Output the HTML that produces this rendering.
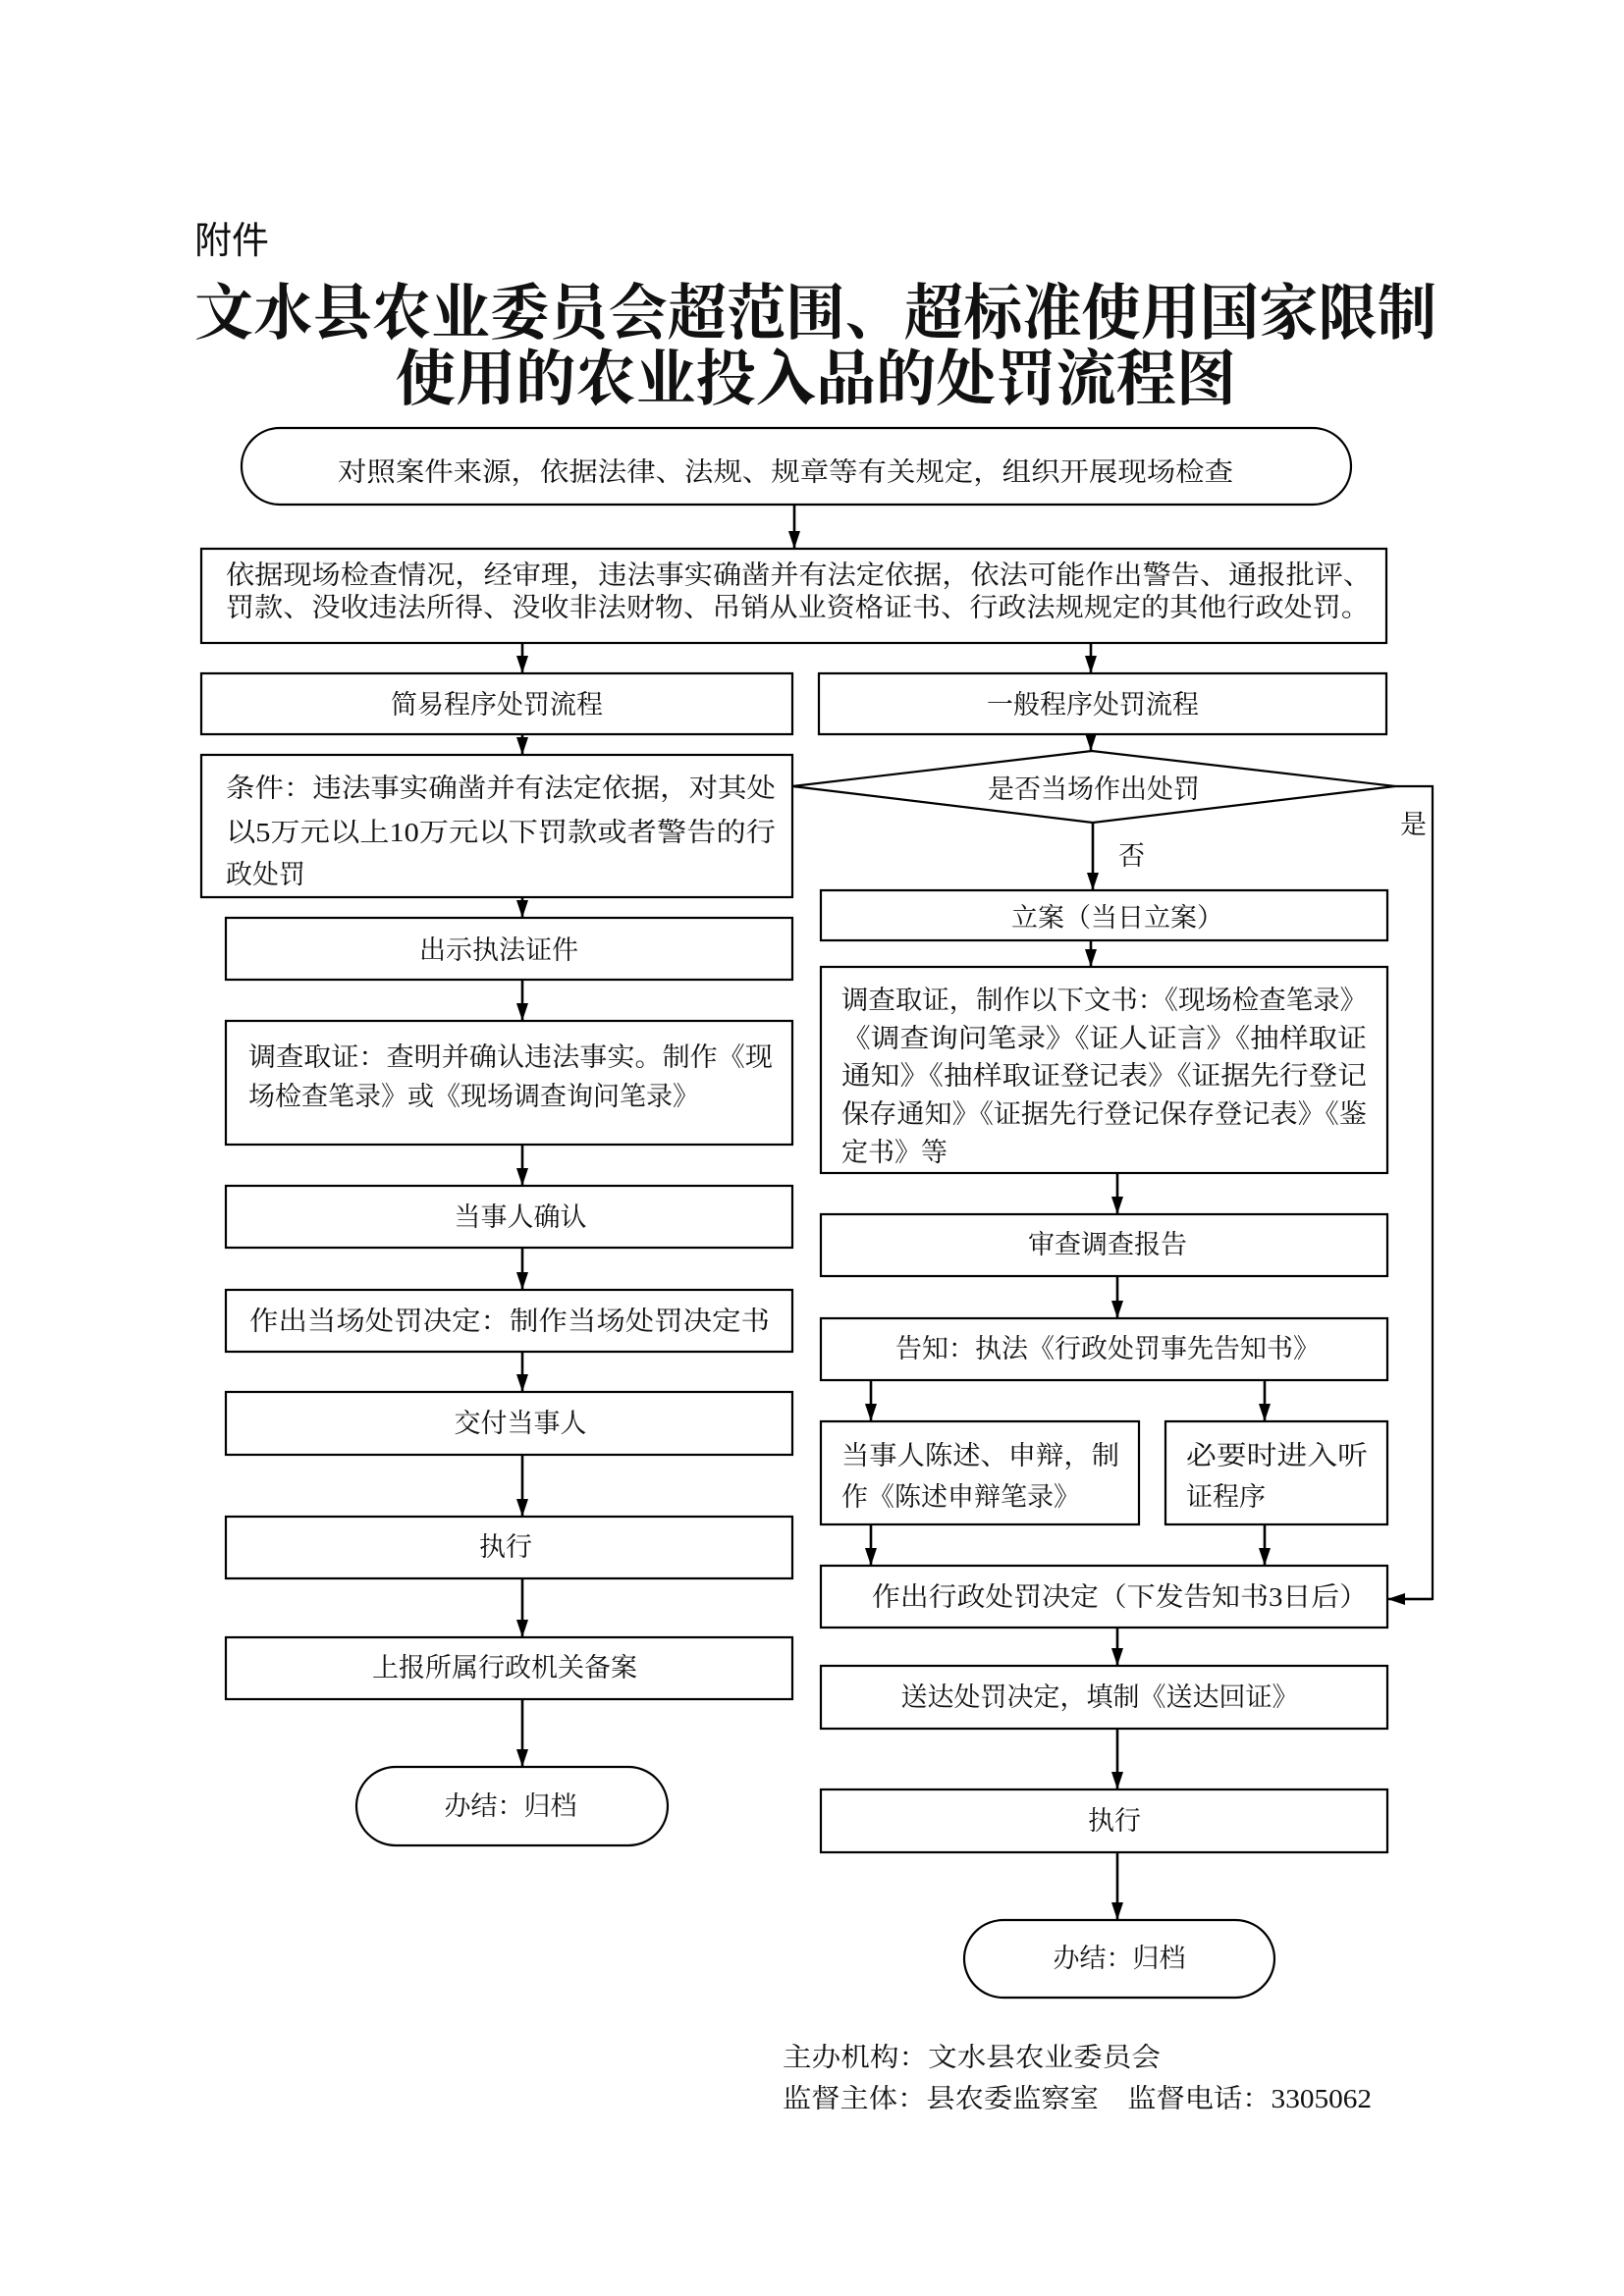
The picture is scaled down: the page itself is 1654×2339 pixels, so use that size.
<!DOCTYPE html>
<html><head><meta charset="utf-8"><style>
html,body{margin:0;padding:0;background:#fff;}
svg{display:block;}
text{font-family:"Liberation Serif","Noto Serif CJK SC",serif;fill:#111;}
.t{font-size:27px;}
.c{text-anchor:middle;}
</style></head><body>
<svg width="1654" height="2339" viewBox="0 0 1654 2339" xmlns="http://www.w3.org/2000/svg">
<defs>
<marker id="a" markerWidth="18" markerHeight="12" refX="18" refY="6" orient="auto" markerUnits="userSpaceOnUse" viewBox="0 0 18 12">
<path d="M0,0 L18,6 L0,12 Z" fill="#000"/>
</marker>
</defs>
<g fill="none" stroke="#000" stroke-width="2.2">
<rect x="246" y="436" width="1130" height="78" rx="39"/>
<rect x="205" y="559" width="1207" height="96"/>
<rect x="205" y="686" width="602" height="62"/>
<rect x="834" y="686" width="578" height="62"/>
<rect x="205" y="769" width="602" height="145"/>
<polygon points="807,801 1112,765 1421,801 1113,838"/>
<polyline points="1421,801 1459,801 1459,1629 1432,1629"/>
<rect x="230" y="935" width="577" height="63"/>
<rect x="230" y="1040" width="577" height="126"/>
<rect x="230" y="1208" width="577" height="63"/>
<rect x="230" y="1314" width="577" height="63"/>
<rect x="230" y="1418" width="577" height="64"/>
<rect x="230" y="1545" width="577" height="63"/>
<rect x="230" y="1668" width="577" height="63"/>
<rect x="363" y="1800" width="317" height="80" rx="40"/>
<rect x="836" y="907" width="577" height="51"/>
<rect x="836" y="985" width="577" height="210"/>
<rect x="836" y="1237" width="577" height="63"/>
<rect x="836" y="1343" width="577" height="63"/>
<rect x="836" y="1448" width="324" height="105"/>
<rect x="1187" y="1448" width="226" height="105"/>
<rect x="836" y="1595" width="577" height="63"/>
<rect x="836" y="1697" width="577" height="64"/>
<rect x="836" y="1823" width="577" height="64"/>
<rect x="982" y="1956" width="316" height="79" rx="40"/>
</g>
<g stroke="#000" stroke-width="2.6" marker-end="url(#a)">
<line x1="809" y1="514" x2="809" y2="559"/>
<line x1="532" y1="655" x2="532" y2="686"/>
<line x1="1111" y1="655" x2="1111" y2="686"/>
<line x1="532" y1="748" x2="532" y2="769"/>
<line x1="1111" y1="748" x2="1111" y2="765"/>
<line x1="1113" y1="838" x2="1113" y2="907"/>
<line x1="1111" y1="958" x2="1111" y2="985"/>
<line x1="1138" y1="1195" x2="1138" y2="1237"/>
<line x1="1138" y1="1300" x2="1138" y2="1343"/>
<line x1="887" y1="1406" x2="887" y2="1448"/>
<line x1="1288" y1="1406" x2="1288" y2="1448"/>
<line x1="887" y1="1553" x2="887" y2="1595"/>
<line x1="1288" y1="1553" x2="1288" y2="1595"/>
<line x1="1138" y1="1658" x2="1138" y2="1697"/>
<line x1="1138" y1="1761" x2="1138" y2="1823"/>
<line x1="1138" y1="1887" x2="1138" y2="1956"/>
<line x1="1459" y1="1629" x2="1413" y2="1629"/>
<line x1="532" y1="914" x2="532" y2="935"/>
<line x1="532" y1="998" x2="532" y2="1040"/>
<line x1="532" y1="1166" x2="532" y2="1208"/>
<line x1="532" y1="1271" x2="532" y2="1314"/>
<line x1="532" y1="1377" x2="532" y2="1418"/>
<line x1="532" y1="1482" x2="532" y2="1545"/>
<line x1="532" y1="1608" x2="532" y2="1668"/>
<line x1="532" y1="1731" x2="532" y2="1800"/>
</g>
<text x="198" y="258" style="font-family:'Liberation Sans','Noto Sans CJK SC',sans-serif;font-size:38px">附件</text>
<text x="198" y="340" textLength="1265" lengthAdjust="spacingAndGlyphs" style="font-size:62px;font-weight:bold">文水县农业委员会超范围、超标准使用国家限制</text>
<text x="403" y="407" textLength="856" lengthAdjust="spacingAndGlyphs" style="font-size:62px;font-weight:bold">使用的农业投入品的处罚流程图</text>
<g class="t" dominant-baseline="central">
<text x="344" y="481" textLength="912" lengthAdjust="spacingAndGlyphs">对照案件来源，依据法律、法规、规章等有关规定，组织开展现场检查</text>
<text x="230" y="586" textLength="1167" lengthAdjust="spacingAndGlyphs">依据现场检查情况，经审理，违法事实确凿并有法定依据，依法可能作出警告、通报批评、</text>
<text x="230" y="619" textLength="1165" lengthAdjust="spacingAndGlyphs">罚款、没收违法所得、没收非法财物、吊销从业资格证书、行政法规规定的其他行政处罚。</text>
<text class="c" x="506" y="718">简易程序处罚流程</text>
<text class="c" x="1113" y="718">一般程序处罚流程</text>
<text x="230" y="803" textLength="560" lengthAdjust="spacingAndGlyphs">条件：违法事实确凿并有法定依据，对其处</text>
<text x="230" y="848" textLength="560" lengthAdjust="spacingAndGlyphs">以5万元以上10万元以下罚款或者警告的行</text>
<text x="230" y="891">政处罚</text>
<text class="c" x="1114" y="804">是否当场作出处罚</text>
<text x="1426" y="840">是</text>
<text x="1139" y="872">否</text>
<text class="c" x="1138" y="935">立案（当日立案）</text>
<text class="c" x="508" y="968">出示执法证件</text>
<text x="253" y="1077" textLength="534" lengthAdjust="spacingAndGlyphs">调查取证：查明并确认违法事实。制作《现</text>
<text x="253" y="1117">场检查笔录》或《现场调查询问笔录》</text>
<text x="857" y="1019" textLength="535" lengthAdjust="spacingAndGlyphs">调查取证，制作以下文书：《现场检查笔录》</text>
<text x="857" y="1058" textLength="535" lengthAdjust="spacingAndGlyphs">《调查询问笔录》《证人证言》《抽样取证</text>
<text x="857" y="1096" textLength="535" lengthAdjust="spacingAndGlyphs">通知》《抽样取证登记表》《证据先行登记</text>
<text x="857" y="1135" textLength="535" lengthAdjust="spacingAndGlyphs">保存通知》《证据先行登记保存登记表》《鉴</text>
<text x="857" y="1174">定书》等</text>
<text class="c" x="530" y="1240">当事人确认</text>
<text x="254" y="1346" textLength="530" lengthAdjust="spacingAndGlyphs">作出当场处罚决定：制作当场处罚决定书</text>
<text class="c" x="530" y="1450">交付当事人</text>
<text class="c" x="515" y="1576">执行</text>
<text class="c" x="514" y="1699">上报所属行政机关备案</text>
<text class="c" x="520" y="1840">办结：归档</text>
<text class="c" x="1128" y="1268">审查调查报告</text>
<text class="c" x="1128" y="1374">告知：执法《行政处罚事先告知书》</text>
<text x="857" y="1483" textLength="283" lengthAdjust="spacingAndGlyphs">当事人陈述、申辩，制</text>
<text x="857" y="1525">作《陈述申辩笔录》</text>
<text x="1208" y="1483" textLength="185" lengthAdjust="spacingAndGlyphs">必要时进入听</text>
<text x="1208" y="1525">证程序</text>
<text x="888" y="1627" textLength="505" lengthAdjust="spacingAndGlyphs">作出行政处罚决定（下发告知书3日后）</text>
<text class="c" x="1120" y="1729">送达处罚决定，填制《送达回证》</text>
<text class="c" x="1135" y="1855">执行</text>
<text class="c" x="1140" y="1995">办结：归档</text>
<text x="797" y="2096" textLength="385" lengthAdjust="spacingAndGlyphs">主办机构：文水县农业委员会</text>
<text x="797" y="2138" textLength="600" lengthAdjust="spacingAndGlyphs">监督主体：县农委监察室　监督电话：3305062</text>
</g>
</svg>
</body></html>
